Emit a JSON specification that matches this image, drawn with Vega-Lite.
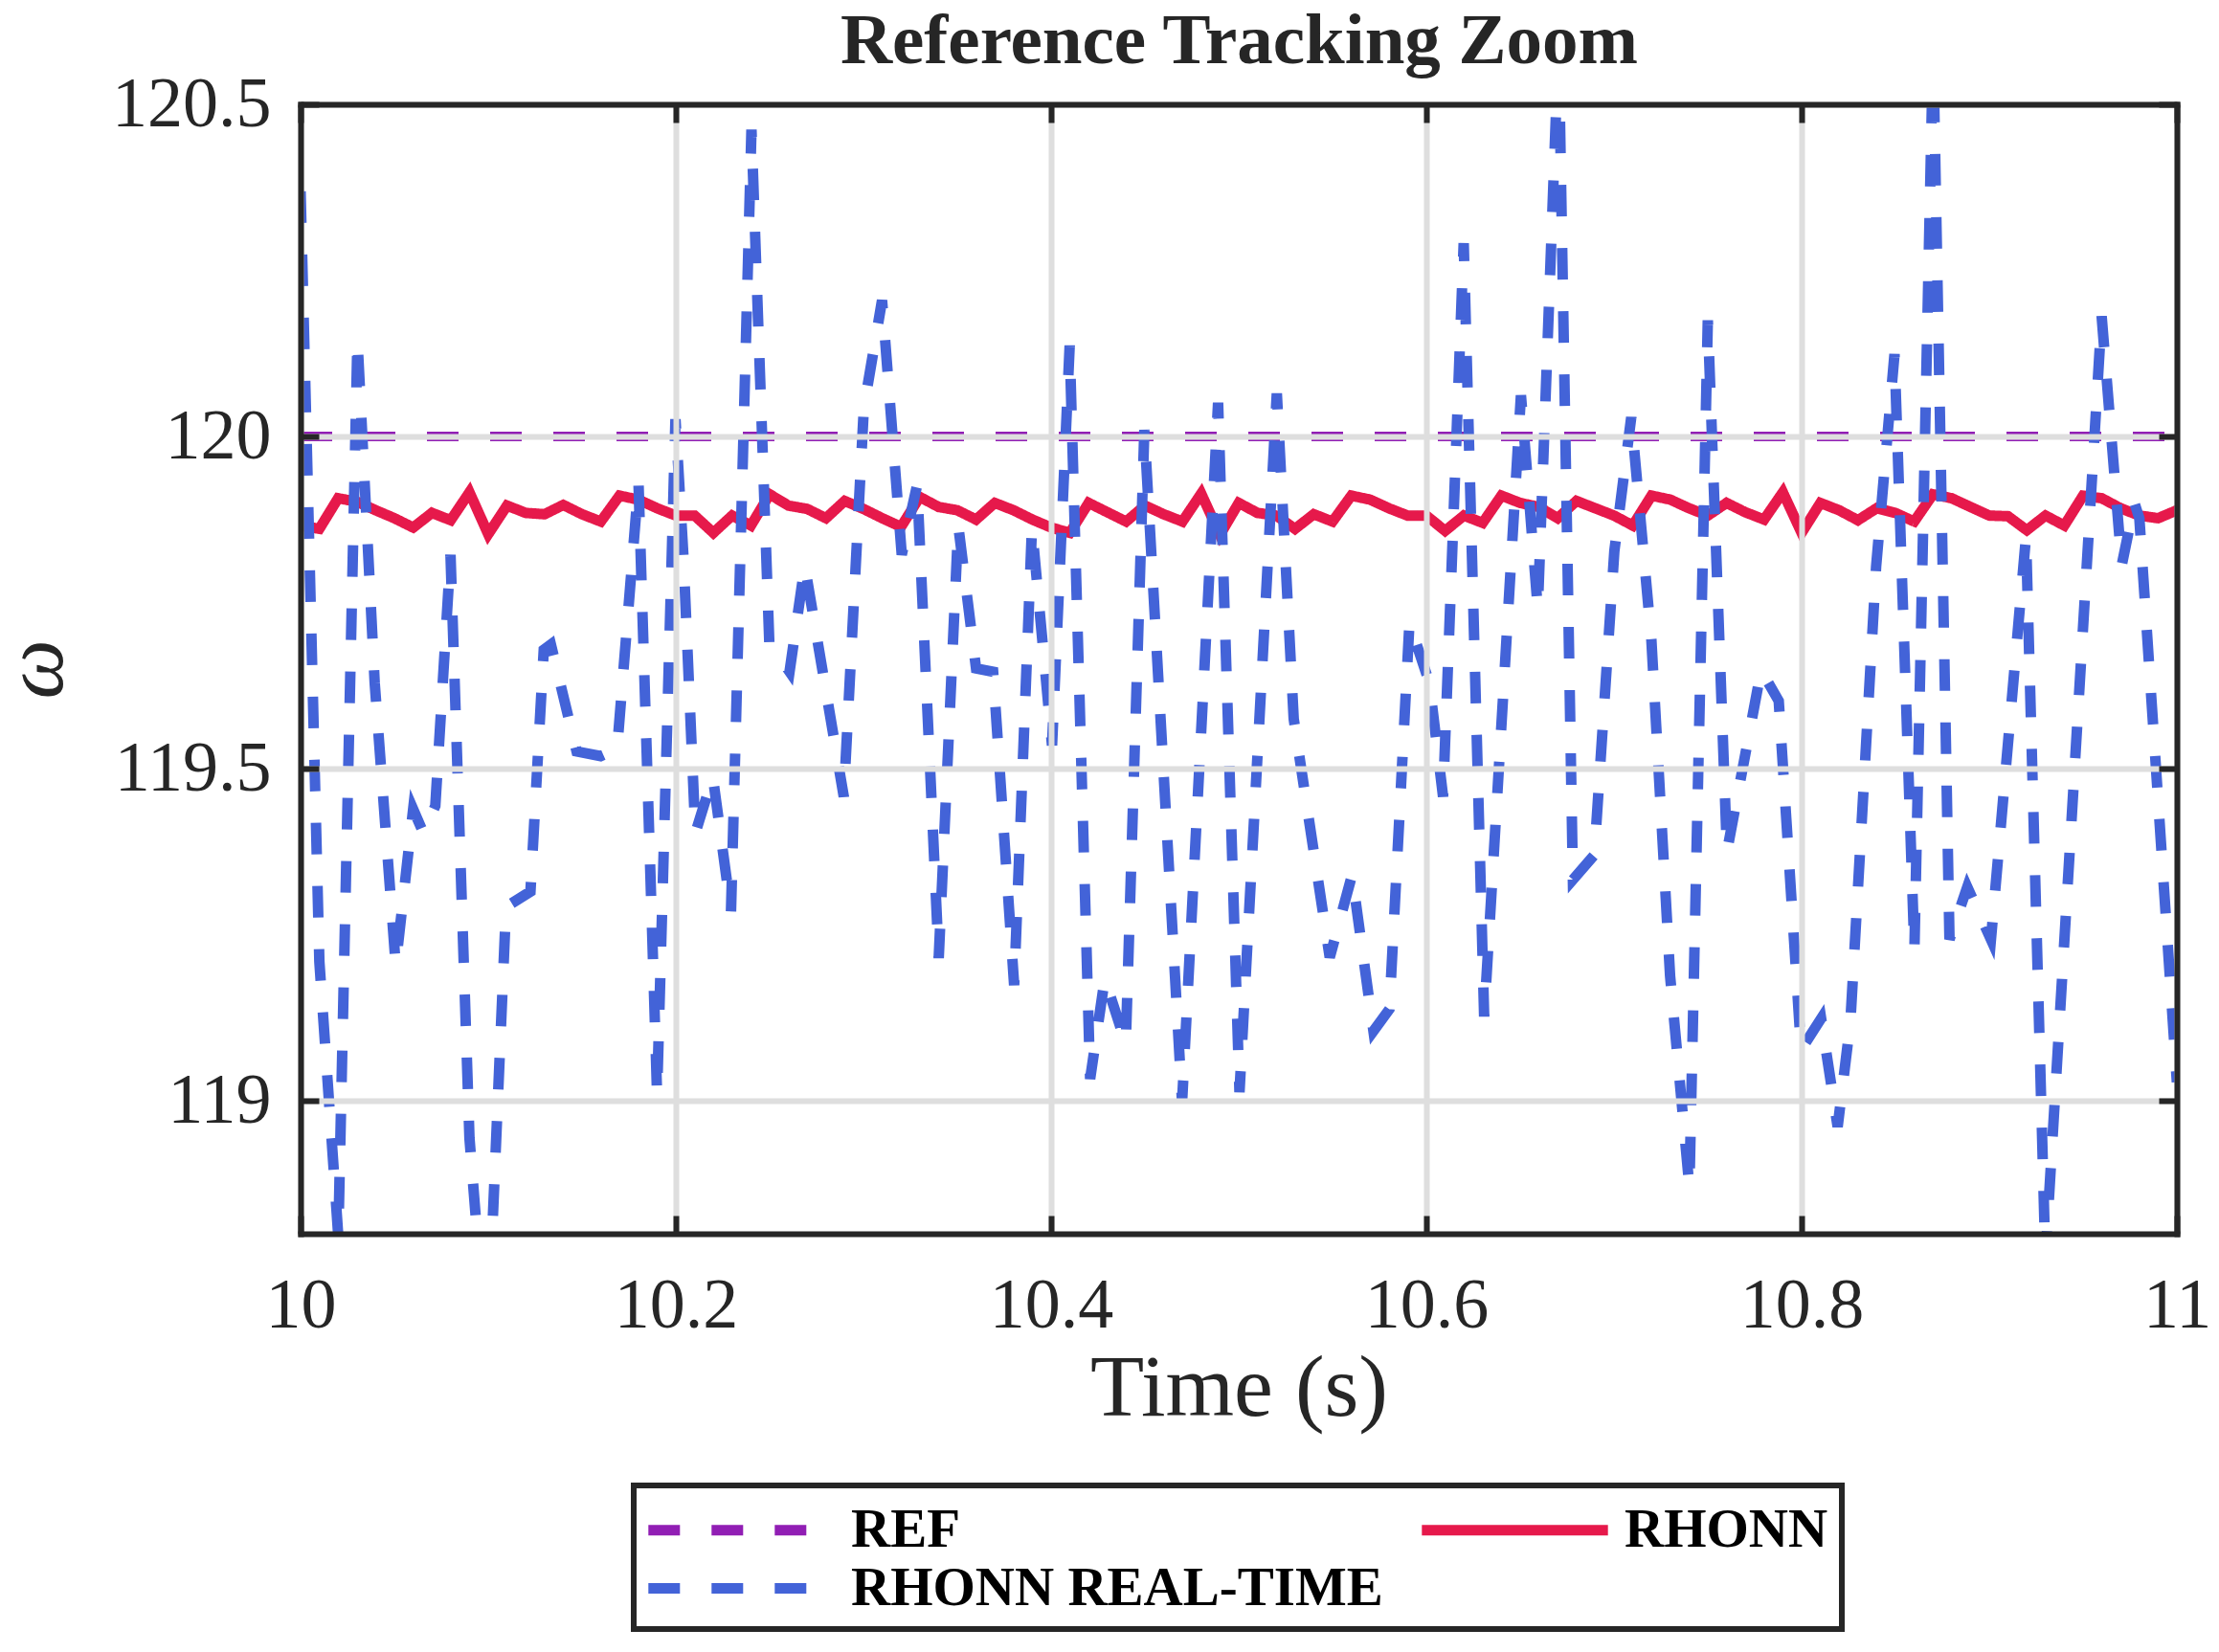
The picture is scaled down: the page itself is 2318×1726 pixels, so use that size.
{
  "$schema": "https://vega.github.io/schema/vega-lite/v6.json",
  "width": 1960,
  "height": 1180,
  "autosize": {"type": "none"},
  "padding": {"left": 314, "top": 109, "right": 44, "bottom": 437},
  "background": "white",
  "layer": [
    {
      "encoding": {
        "x": {
          "field": "t",
          "type": "quantitative",
          "scale": {"domain": [10, 11], "nice": false, "zero": false},
          "axis": {
            "orient": "bottom",
            "values": [10, 10.2, 10.4, 10.6, 10.8, 11],
            "format": "~g",
            "title": "Time (s)",
            "grid": true,
            "gridColor": "#dedede",
            "gridWidth": 6,
            "gridOpacity": 1,
            "domain": true,
            "domainColor": "#262626",
            "domainWidth": 6,
            "domainCap": "square",
            "ticks": true,
            "tickSize": -19,
            "tickWidth": 6,
            "tickColor": "#262626",
            "labelFont": "Liberation Serif",
            "labelFontSize": 74,
            "labelColor": "#262626",
            "labelPadding": 58,
            "labelFlush": false,
            "labelOverlap": false,
            "labelBound": false,
            "titleFont": "Liberation Serif",
            "titleFontSize": 92,
            "titleFontWeight": "normal",
            "titleColor": "#262626",
            "titlePadding": 4,
            "zindex": 1
          }
        },
        "y": {
          "field": "v",
          "type": "quantitative",
          "scale": {"domain": [118.8, 120.5], "nice": false, "zero": false},
          "axis": {
            "orient": "left",
            "values": [119, 119.5, 120, 120.5],
            "format": "~g",
            "title": "ω",
            "grid": true,
            "gridColor": "#dedede",
            "gridWidth": 6,
            "gridOpacity": 1,
            "domain": true,
            "domainColor": "#262626",
            "domainWidth": 6,
            "domainCap": "square",
            "ticks": true,
            "tickSize": -19,
            "tickWidth": 6,
            "tickColor": "#262626",
            "labelFont": "Liberation Serif",
            "labelFontSize": 74,
            "labelColor": "#262626",
            "labelPadding": 50,
            "labelOverlap": false,
            "labelBound": false,
            "titleFont": "Liberation Serif",
            "titleFontSize": 88,
            "titleFontStyle": "italic",
            "titleFontWeight": "normal",
            "titleColor": "#262626",
            "titleBaseline": "alphabetic",
            "titlePadding": 52,
            "zindex": 1
          }
        },
        "color": {
          "field": "series",
          "type": "nominal",
          "scale": {
            "domain": ["REF", "RHONN", "RHONN REAL-TIME"],
            "range": ["#911eb4", "#e6194b", "#4363d8"]
          },
          "legend": {"title": null, "orient": "none", "legendX": 348, "legendY": 1443, "columns": 2, "direction": "horizontal"}
        },
        "strokeDash": {
          "field": "series",
          "type": "nominal",
          "scale": {
            "domain": ["REF", "RHONN", "RHONN REAL-TIME"],
            "range": [[33, 33], [1, 0], [33, 33]]
          },
          "legend": {"title": null, "orient": "none", "legendX": 348, "legendY": 1443, "columns": 2, "direction": "horizontal"}
        }
      },
      "layer": [
        {
          "data": {
            "values": [
              {"t": 10, "v": 120, "series": "REF"},
              {"t": 11, "v": 120, "series": "REF"}
            ]
          },
          "mark": {"type": "line", "clip": true, "strokeWidth": 10}
        },
        {
          "data": {
            "values": [
              {"t": 10.00, "v": 119.866, "series": "RHONN"},
              {"t": 10.01, "v": 119.861, "series": "RHONN"},
              {"t": 10.02, "v": 119.907, "series": "RHONN"},
              {"t": 10.03, "v": 119.902, "series": "RHONN"},
              {"t": 10.04, "v": 119.889, "series": "RHONN"},
              {"t": 10.05, "v": 119.877, "series": "RHONN"},
              {"t": 10.06, "v": 119.863, "series": "RHONN"},
              {"t": 10.07, "v": 119.885, "series": "RHONN"},
              {"t": 10.08, "v": 119.874, "series": "RHONN"},
              {"t": 10.09, "v": 119.916, "series": "RHONN"},
              {"t": 10.10, "v": 119.853, "series": "RHONN"},
              {"t": 10.11, "v": 119.896, "series": "RHONN"},
              {"t": 10.12, "v": 119.885, "series": "RHONN"},
              {"t": 10.13, "v": 119.883, "series": "RHONN"},
              {"t": 10.14, "v": 119.897, "series": "RHONN"},
              {"t": 10.15, "v": 119.883, "series": "RHONN"},
              {"t": 10.16, "v": 119.872, "series": "RHONN"},
              {"t": 10.17, "v": 119.911, "series": "RHONN"},
              {"t": 10.18, "v": 119.905, "series": "RHONN"},
              {"t": 10.19, "v": 119.892, "series": "RHONN"},
              {"t": 10.20, "v": 119.881, "series": "RHONN"},
              {"t": 10.21, "v": 119.881, "series": "RHONN"},
              {"t": 10.22, "v": 119.855, "series": "RHONN"},
              {"t": 10.23, "v": 119.881, "series": "RHONN"},
              {"t": 10.24, "v": 119.866, "series": "RHONN"},
              {"t": 10.25, "v": 119.913, "series": "RHONN"},
              {"t": 10.26, "v": 119.896, "series": "RHONN"},
              {"t": 10.27, "v": 119.891, "series": "RHONN"},
              {"t": 10.28, "v": 119.877, "series": "RHONN"},
              {"t": 10.29, "v": 119.903, "series": "RHONN"},
              {"t": 10.30, "v": 119.891, "series": "RHONN"},
              {"t": 10.31, "v": 119.877, "series": "RHONN"},
              {"t": 10.32, "v": 119.864, "series": "RHONN"},
              {"t": 10.33, "v": 119.909, "series": "RHONN"},
              {"t": 10.34, "v": 119.894, "series": "RHONN"},
              {"t": 10.35, "v": 119.889, "series": "RHONN"},
              {"t": 10.36, "v": 119.875, "series": "RHONN"},
              {"t": 10.37, "v": 119.900, "series": "RHONN"},
              {"t": 10.38, "v": 119.889, "series": "RHONN"},
              {"t": 10.39, "v": 119.875, "series": "RHONN"},
              {"t": 10.40, "v": 119.863, "series": "RHONN"},
              {"t": 10.41, "v": 119.855, "series": "RHONN"},
              {"t": 10.42, "v": 119.900, "series": "RHONN"},
              {"t": 10.43, "v": 119.886, "series": "RHONN"},
              {"t": 10.44, "v": 119.872, "series": "RHONN"},
              {"t": 10.45, "v": 119.896, "series": "RHONN"},
              {"t": 10.46, "v": 119.883, "series": "RHONN"},
              {"t": 10.47, "v": 119.872, "series": "RHONN"},
              {"t": 10.48, "v": 119.914, "series": "RHONN"},
              {"t": 10.49, "v": 119.852, "series": "RHONN"},
              {"t": 10.50, "v": 119.900, "series": "RHONN"},
              {"t": 10.51, "v": 119.885, "series": "RHONN"},
              {"t": 10.52, "v": 119.881, "series": "RHONN"},
              {"t": 10.53, "v": 119.861, "series": "RHONN"},
              {"t": 10.54, "v": 119.883, "series": "RHONN"},
              {"t": 10.55, "v": 119.872, "series": "RHONN"},
              {"t": 10.56, "v": 119.911, "series": "RHONN"},
              {"t": 10.57, "v": 119.905, "series": "RHONN"},
              {"t": 10.58, "v": 119.892, "series": "RHONN"},
              {"t": 10.59, "v": 119.881, "series": "RHONN"},
              {"t": 10.60, "v": 119.881, "series": "RHONN"},
              {"t": 10.61, "v": 119.858, "series": "RHONN"},
              {"t": 10.62, "v": 119.881, "series": "RHONN"},
              {"t": 10.63, "v": 119.870, "series": "RHONN"},
              {"t": 10.64, "v": 119.911, "series": "RHONN"},
              {"t": 10.65, "v": 119.900, "series": "RHONN"},
              {"t": 10.66, "v": 119.894, "series": "RHONN"},
              {"t": 10.67, "v": 119.877, "series": "RHONN"},
              {"t": 10.68, "v": 119.903, "series": "RHONN"},
              {"t": 10.69, "v": 119.892, "series": "RHONN"},
              {"t": 10.70, "v": 119.881, "series": "RHONN"},
              {"t": 10.71, "v": 119.866, "series": "RHONN"},
              {"t": 10.72, "v": 119.911, "series": "RHONN"},
              {"t": 10.73, "v": 119.905, "series": "RHONN"},
              {"t": 10.74, "v": 119.892, "series": "RHONN"},
              {"t": 10.75, "v": 119.881, "series": "RHONN"},
              {"t": 10.76, "v": 119.900, "series": "RHONN"},
              {"t": 10.77, "v": 119.886, "series": "RHONN"},
              {"t": 10.78, "v": 119.875, "series": "RHONN"},
              {"t": 10.79, "v": 119.916, "series": "RHONN"},
              {"t": 10.80, "v": 119.855, "series": "RHONN"},
              {"t": 10.81, "v": 119.900, "series": "RHONN"},
              {"t": 10.82, "v": 119.889, "series": "RHONN"},
              {"t": 10.83, "v": 119.874, "series": "RHONN"},
              {"t": 10.84, "v": 119.892, "series": "RHONN"},
              {"t": 10.85, "v": 119.885, "series": "RHONN"},
              {"t": 10.86, "v": 119.872, "series": "RHONN"},
              {"t": 10.87, "v": 119.913, "series": "RHONN"},
              {"t": 10.88, "v": 119.907, "series": "RHONN"},
              {"t": 10.89, "v": 119.894, "series": "RHONN"},
              {"t": 10.90, "v": 119.881, "series": "RHONN"},
              {"t": 10.91, "v": 119.880, "series": "RHONN"},
              {"t": 10.92, "v": 119.859, "series": "RHONN"},
              {"t": 10.93, "v": 119.881, "series": "RHONN"},
              {"t": 10.94, "v": 119.866, "series": "RHONN"},
              {"t": 10.95, "v": 119.911, "series": "RHONN"},
              {"t": 10.96, "v": 119.907, "series": "RHONN"},
              {"t": 10.97, "v": 119.892, "series": "RHONN"},
              {"t": 10.98, "v": 119.881, "series": "RHONN"},
              {"t": 10.99, "v": 119.877, "series": "RHONN"},
              {"t": 11.00, "v": 119.889, "series": "RHONN"}
            ]
          },
          "mark": {"type": "line", "clip": true, "strokeWidth": 11}
        },
        {
          "data": {
            "values": [
              {"t": 10.0000, "v": 120.369, "series": "RHONN REAL-TIME"},
              {"t": 10.0100, "v": 119.210, "series": "RHONN REAL-TIME"},
              {"t": 10.0201, "v": 118.796, "series": "RHONN REAL-TIME"},
              {"t": 10.0303, "v": 120.146, "series": "RHONN REAL-TIME"},
              {"t": 10.0395, "v": 119.629, "series": "RHONN REAL-TIME"},
              {"t": 10.0507, "v": 119.204, "series": "RHONN REAL-TIME"},
              {"t": 10.0600, "v": 119.439, "series": "RHONN REAL-TIME"},
              {"t": 10.0655, "v": 119.403, "series": "RHONN REAL-TIME"},
              {"t": 10.0718, "v": 119.444, "series": "RHONN REAL-TIME"},
              {"t": 10.0799, "v": 119.822, "series": "RHONN REAL-TIME"},
              {"t": 10.0900, "v": 118.944, "series": "RHONN REAL-TIME"},
              {"t": 10.0993, "v": 118.614, "series": "RHONN REAL-TIME"},
              {"t": 10.1095, "v": 119.292, "series": "RHONN REAL-TIME"},
              {"t": 10.1225, "v": 119.315, "series": "RHONN REAL-TIME"},
              {"t": 10.1296, "v": 119.679, "series": "RHONN REAL-TIME"},
              {"t": 10.1334, "v": 119.687, "series": "RHONN REAL-TIME"},
              {"t": 10.1471, "v": 119.526, "series": "RHONN REAL-TIME"},
              {"t": 10.1599, "v": 119.519, "series": "RHONN REAL-TIME"},
              {"t": 10.1687, "v": 119.530, "series": "RHONN REAL-TIME"},
              {"t": 10.1801, "v": 119.930, "series": "RHONN REAL-TIME"},
              {"t": 10.1900, "v": 119.009, "series": "RHONN REAL-TIME"},
              {"t": 10.1998, "v": 120.026, "series": "RHONN REAL-TIME"},
              {"t": 10.2041, "v": 119.817, "series": "RHONN REAL-TIME"},
              {"t": 10.2104, "v": 119.403, "series": "RHONN REAL-TIME"},
              {"t": 10.2197, "v": 119.488, "series": "RHONN REAL-TIME"},
              {"t": 10.2294, "v": 119.285, "series": "RHONN REAL-TIME"},
              {"t": 10.2403, "v": 120.462, "series": "RHONN REAL-TIME"},
              {"t": 10.2498, "v": 119.690, "series": "RHONN REAL-TIME"},
              {"t": 10.2606, "v": 119.646, "series": "RHONN REAL-TIME"},
              {"t": 10.2687, "v": 119.806, "series": "RHONN REAL-TIME"},
              {"t": 10.2895, "v": 119.458, "series": "RHONN REAL-TIME"},
              {"t": 10.3002, "v": 120.043, "series": "RHONN REAL-TIME"},
              {"t": 10.3099, "v": 120.205, "series": "RHONN REAL-TIME"},
              {"t": 10.3204, "v": 119.822, "series": "RHONN REAL-TIME"},
              {"t": 10.3286, "v": 119.927, "series": "RHONN REAL-TIME"},
              {"t": 10.3401, "v": 119.215, "series": "RHONN REAL-TIME"},
              {"t": 10.3505, "v": 119.866, "series": "RHONN REAL-TIME"},
              {"t": 10.3600, "v": 119.651, "series": "RHONN REAL-TIME"},
              {"t": 10.3691, "v": 119.646, "series": "RHONN REAL-TIME"},
              {"t": 10.3803, "v": 119.174, "series": "RHONN REAL-TIME"},
              {"t": 10.3898, "v": 119.863, "series": "RHONN REAL-TIME"},
              {"t": 10.4005, "v": 119.535, "series": "RHONN REAL-TIME"},
              {"t": 10.4099, "v": 120.137, "series": "RHONN REAL-TIME"},
              {"t": 10.4208, "v": 119.033, "series": "RHONN REAL-TIME"},
              {"t": 10.4286, "v": 119.184, "series": "RHONN REAL-TIME"},
              {"t": 10.4398, "v": 119.086, "series": "RHONN REAL-TIME"},
              {"t": 10.4497, "v": 120.010, "series": "RHONN REAL-TIME"},
              {"t": 10.4698, "v": 118.998, "series": "RHONN REAL-TIME"},
              {"t": 10.4890, "v": 120.051, "series": "RHONN REAL-TIME"},
              {"t": 10.5004, "v": 119.013, "series": "RHONN REAL-TIME"},
              {"t": 10.5203, "v": 120.065, "series": "RHONN REAL-TIME"},
              {"t": 10.5293, "v": 119.575, "series": "RHONN REAL-TIME"},
              {"t": 10.5485, "v": 119.216, "series": "RHONN REAL-TIME"},
              {"t": 10.5604, "v": 119.340, "series": "RHONN REAL-TIME"},
              {"t": 10.5718, "v": 119.105, "series": "RHONN REAL-TIME"},
              {"t": 10.5803, "v": 119.138, "series": "RHONN REAL-TIME"},
              {"t": 10.5910, "v": 119.720, "series": "RHONN REAL-TIME"},
              {"t": 10.6016, "v": 119.629, "series": "RHONN REAL-TIME"},
              {"t": 10.6089, "v": 119.458, "series": "RHONN REAL-TIME"},
              {"t": 10.6199, "v": 120.291, "series": "RHONN REAL-TIME"},
              {"t": 10.6308, "v": 119.127, "series": "RHONN REAL-TIME"},
              {"t": 10.6504, "v": 120.062, "series": "RHONN REAL-TIME"},
              {"t": 10.6594, "v": 119.740, "series": "RHONN REAL-TIME"},
              {"t": 10.6705, "v": 120.596, "series": "RHONN REAL-TIME"},
              {"t": 10.6781, "v": 119.333, "series": "RHONN REAL-TIME"},
              {"t": 10.6895, "v": 119.370, "series": "RHONN REAL-TIME"},
              {"t": 10.7002, "v": 119.828, "series": "RHONN REAL-TIME"},
              {"t": 10.7092, "v": 120.029, "series": "RHONN REAL-TIME"},
              {"t": 10.7199, "v": 119.695, "series": "RHONN REAL-TIME"},
              {"t": 10.7299, "v": 119.188, "series": "RHONN REAL-TIME"},
              {"t": 10.7402, "v": 118.870, "series": "RHONN REAL-TIME"},
              {"t": 10.7500, "v": 120.175, "series": "RHONN REAL-TIME"},
              {"t": 10.7602, "v": 119.375, "series": "RHONN REAL-TIME"},
              {"t": 10.7784, "v": 119.648, "series": "RHONN REAL-TIME"},
              {"t": 10.7878, "v": 119.602, "series": "RHONN REAL-TIME"},
              {"t": 10.7997, "v": 119.077, "series": "RHONN REAL-TIME"},
              {"t": 10.8104, "v": 119.124, "series": "RHONN REAL-TIME"},
              {"t": 10.8192, "v": 118.961, "series": "RHONN REAL-TIME"},
              {"t": 10.8260, "v": 119.119, "series": "RHONN REAL-TIME"},
              {"t": 10.8397, "v": 119.804, "series": "RHONN REAL-TIME"},
              {"t": 10.8495, "v": 120.124, "series": "RHONN REAL-TIME"},
              {"t": 10.8601, "v": 119.226, "series": "RHONN REAL-TIME"},
              {"t": 10.8701, "v": 120.591, "series": "RHONN REAL-TIME"},
              {"t": 10.8788, "v": 119.243, "series": "RHONN REAL-TIME"},
              {"t": 10.8883, "v": 119.322, "series": "RHONN REAL-TIME"},
              {"t": 10.9009, "v": 119.243, "series": "RHONN REAL-TIME"},
              {"t": 10.9196, "v": 119.850, "series": "RHONN REAL-TIME"},
              {"t": 10.9299, "v": 118.763, "series": "RHONN REAL-TIME"},
              {"t": 10.9599, "v": 120.181, "series": "RHONN REAL-TIME"},
              {"t": 10.9706, "v": 119.806, "series": "RHONN REAL-TIME"},
              {"t": 10.9774, "v": 119.900, "series": "RHONN REAL-TIME"},
              {"t": 10.9800, "v": 119.877, "series": "RHONN REAL-TIME"},
              {"t": 11.0000, "v": 119.028, "series": "RHONN REAL-TIME"}
            ]
          },
          "mark": {"type": "line", "clip": true, "strokeWidth": 11}
        }
      ]
    },
    {
      "data": {
        "values": [
          {"t": 10, "v": 120, "series": "REF"},
          {"t": 11, "v": 120, "series": "REF"}
        ]
      },
      "mark": {"type": "line", "opacity": 0},
      "encoding": {
        "x": {
          "field": "t",
          "type": "quantitative",
          "scale": {"domain": [10, 11], "nice": false, "zero": false},
          "axis": {
            "orient": "top",
            "values": [10, 10.2, 10.4, 10.6, 10.8, 11],
            "labels": false,
            "title": "Reference Tracking Zoom",
            "titleFont": "Liberation Serif",
            "titleFontSize": 75,
            "titleFontWeight": "bold",
            "titleColor": "#262626",
            "titleBaseline": "alphabetic",
            "titlePadding": 41,
            "grid": false,
            "domain": true,
            "domainColor": "#262626",
            "domainWidth": 6,
            "domainCap": "square",
            "ticks": true,
            "tickSize": -19,
            "tickWidth": 6,
            "tickColor": "#262626",
            "zindex": 1
          }
        },
        "y": {
          "field": "v",
          "type": "quantitative",
          "scale": {"domain": [118.8, 120.5], "nice": false, "zero": false},
          "axis": {
            "orient": "right",
            "values": [119, 119.5, 120, 120.5],
            "labels": false,
            "title": null,
            "grid": false,
            "domain": true,
            "domainColor": "#262626",
            "domainWidth": 6,
            "domainCap": "square",
            "ticks": true,
            "tickSize": -19,
            "tickWidth": 6,
            "tickColor": "#262626",
            "zindex": 1
          }
        }
      }
    }
  ],
  "resolve": {"axis": {"x": "independent", "y": "independent"}},
  "config": {
    "font": "Liberation Serif",
    "view": {"stroke": null},
    "legend": {
      "symbolType": "M-3.6,0H3.6",
      "symbolSize": 2916,
      "symbolStrokeWidth": 11,
      "symbolOffset": 66,
      "labelFont": "Liberation Serif",
      "labelFontSize": 57,
      "labelFontWeight": "bold",
      "labelColor": "black",
      "labelOffset": 82,
      "labelLimit": 0,
      "columnPadding": 18,
      "rowPadding": -3,
      "padding": 14,
      "strokeColor": "#262626",
      "strokeWidth": 6,
      "fillColor": "white",
      "cornerRadius": 0
    }
  }
}
